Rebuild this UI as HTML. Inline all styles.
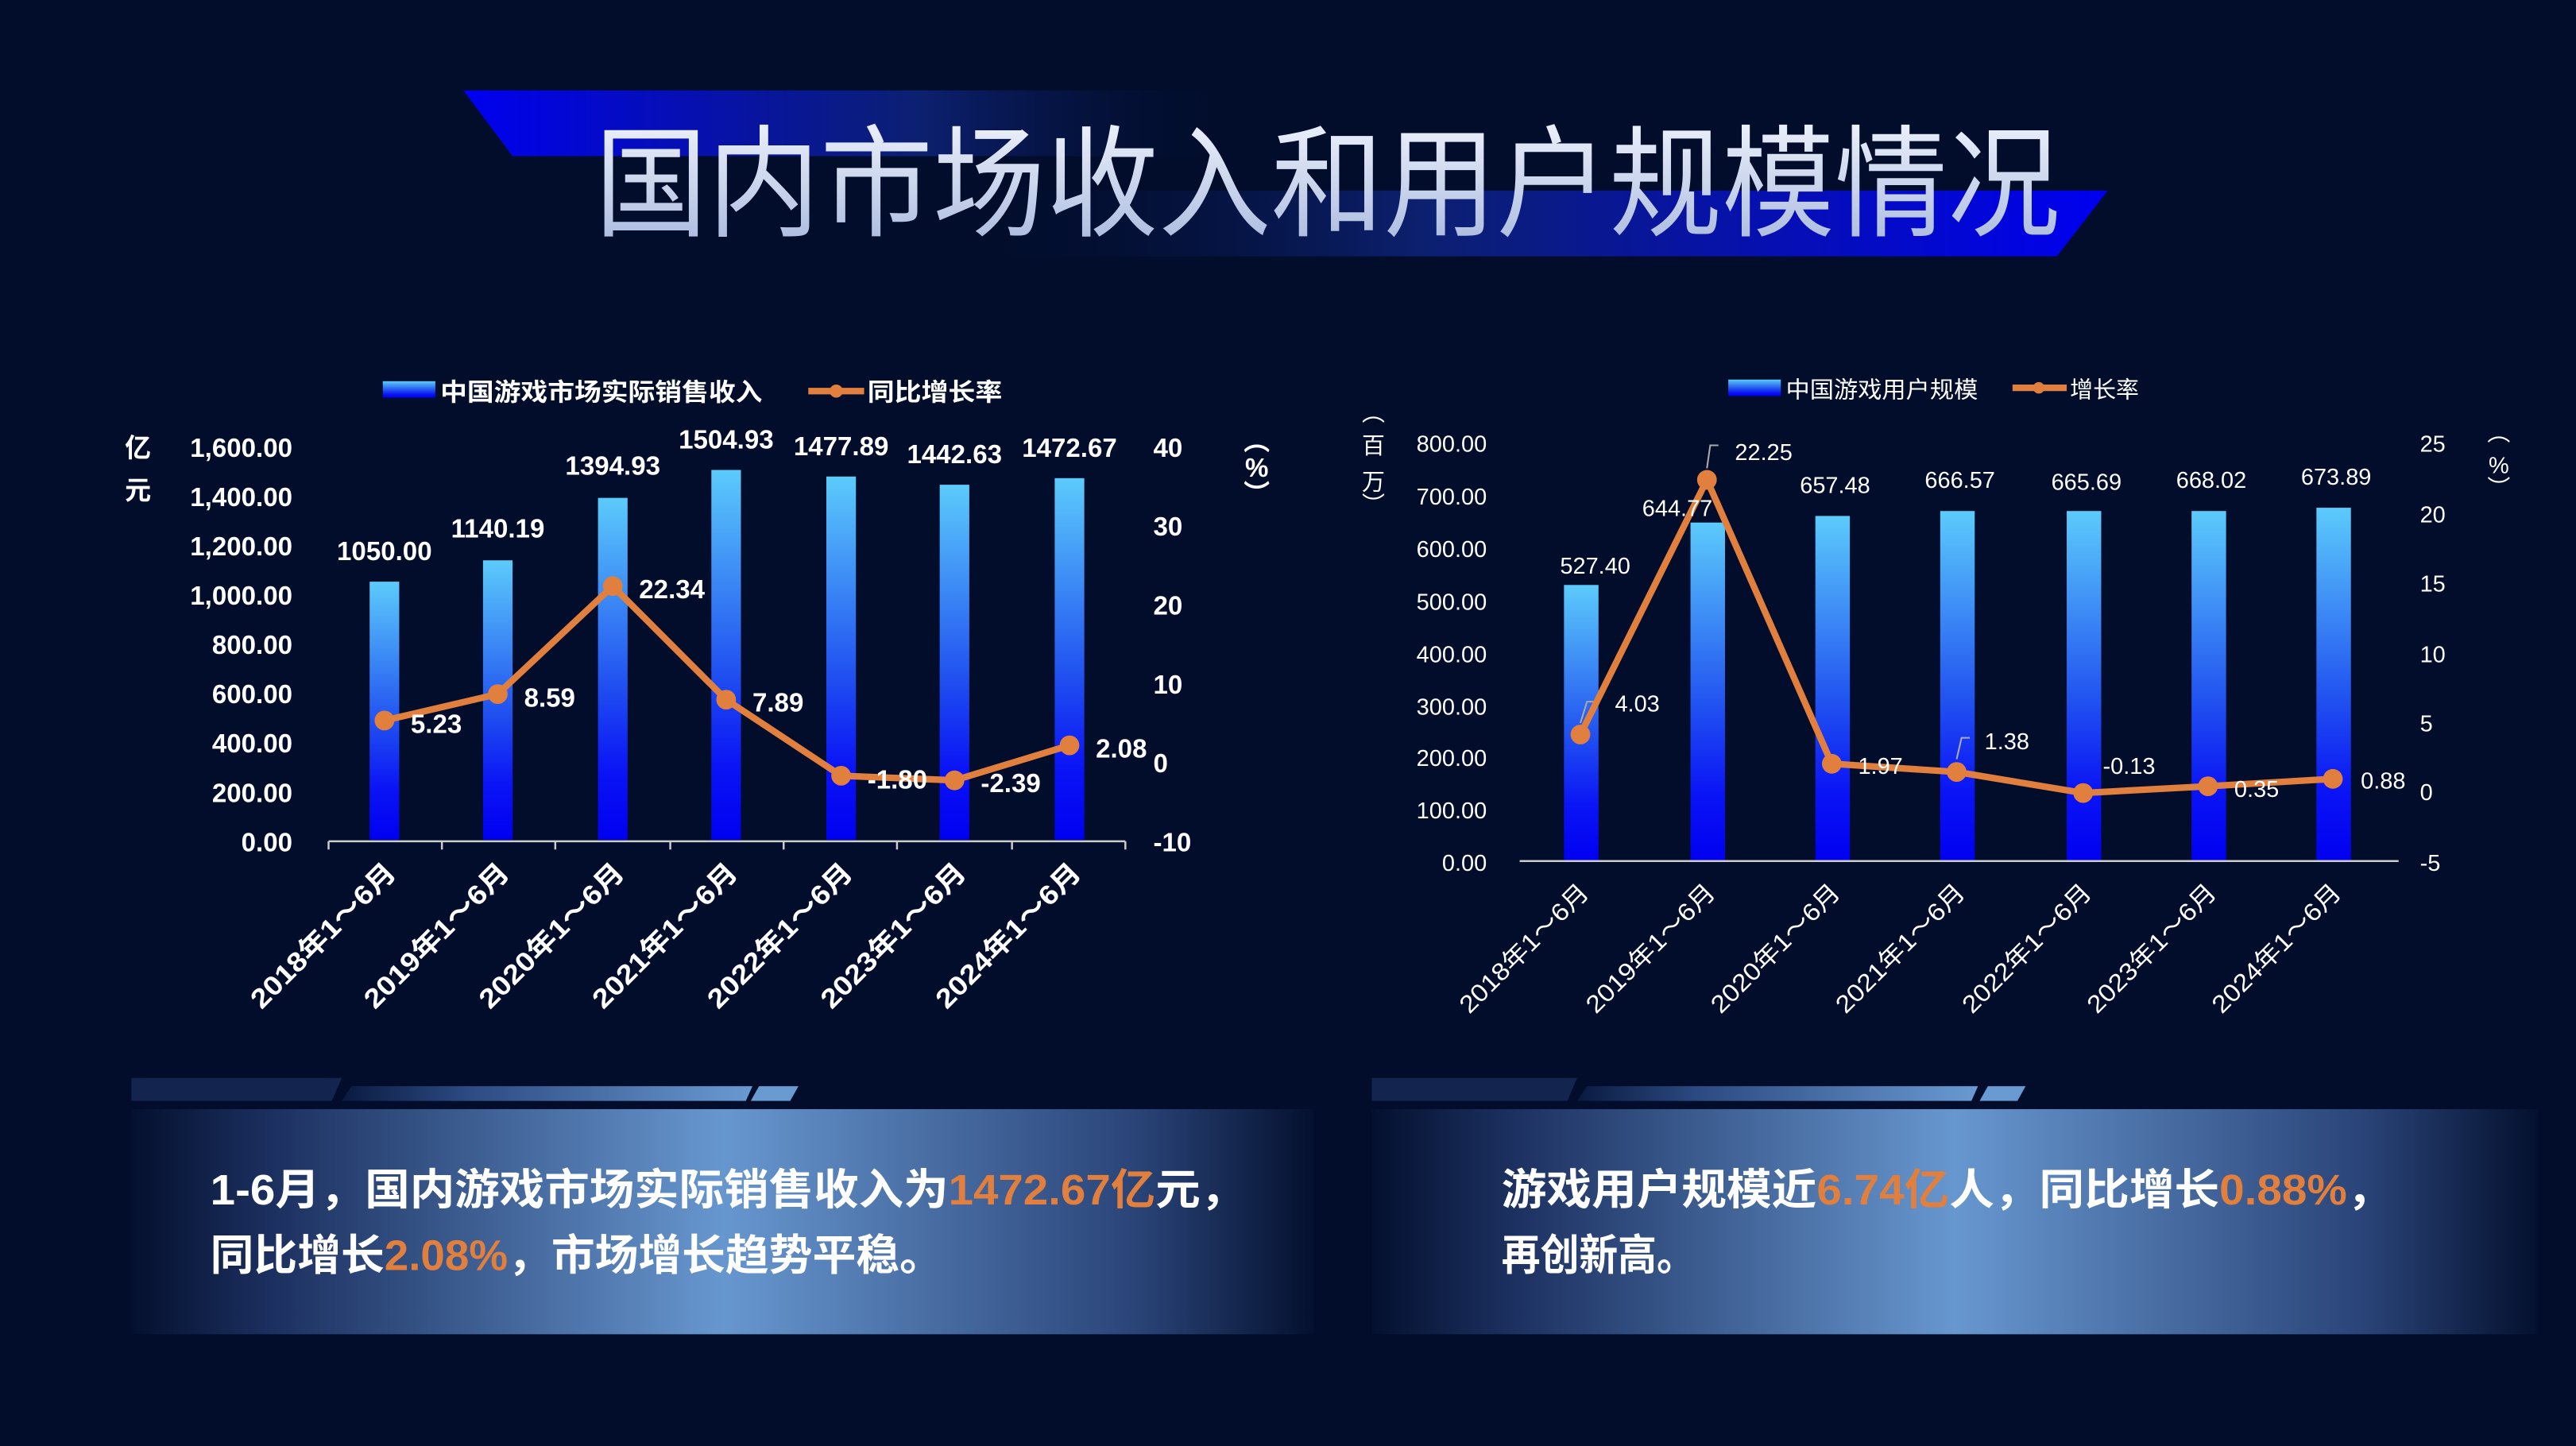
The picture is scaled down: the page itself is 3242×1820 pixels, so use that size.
<!DOCTYPE html>
<html><head><meta charset="utf-8"><style>
html,body{margin:0;padding:0;background:#020d2b;}
svg{display:block}
text{font-family:"Liberation Sans","Noto Sans CJK SC",sans-serif;}
</style></head><body>
<svg width="3242" height="1820" viewBox="0 0 1568 880" preserveAspectRatio="none" xmlns="http://www.w3.org/2000/svg">
<defs>
<linearGradient id="bar" x1="0" y1="0" x2="0" y2="1"><stop offset="0" stop-color="#5ccbfb"/><stop offset="0.55" stop-color="#2050f0"/><stop offset="0.8" stop-color="#0a14f5"/><stop offset="1" stop-color="#0000f0"/></linearGradient>
<linearGradient id="t1" x1="0" x2="1"><stop offset="0" stop-color="#0000f0"/><stop offset="0.6" stop-color="#0c2070"/><stop offset="1" stop-color="#031035" stop-opacity="0"/></linearGradient>
<linearGradient id="t2" x1="0" x2="1"><stop offset="0" stop-color="#031035" stop-opacity="0"/><stop offset="0.4" stop-color="#0c2070"/><stop offset="1" stop-color="#0000f0"/></linearGradient>
<linearGradient id="tt" x1="0" y1="0" x2="0" y2="1"><stop offset="0" stop-color="#eef2fb"/><stop offset="1" stop-color="#a7b8de"/></linearGradient>
<linearGradient id="pan" x1="0" x2="1"><stop offset="0" stop-color="#04102e"/><stop offset="0.12" stop-color="#1c3060"/><stop offset="0.5" stop-color="#6797cf"/><stop offset="0.85" stop-color="#2a4478"/><stop offset="1" stop-color="#04102e"/></linearGradient>
<linearGradient id="dec" x1="0" x2="1"><stop offset="0" stop-color="#0a1a40"/><stop offset="0.3" stop-color="#2b4a80"/><stop offset="1" stop-color="#6a9ad2"/></linearGradient>
</defs>
<rect width="1568" height="880" fill="#020d2b"/>
<!-- title -->
<polygon points="282,55 740,55 748,95 312,95" fill="url(#t1)"/>
<polygon points="590,116 1283,116 1252,156 600,156" fill="url(#t2)"/>
<text x="808" y="138" text-anchor="middle" font-size="74" fill="url(#tt)" textLength="892" lengthAdjust="spacingAndGlyphs">国内市场收入和用户规模情况</text>

<!-- LEFT CHART -->
<g font-weight="bold" fill="#fff">
<rect x="233" y="232" width="32" height="10" fill="url(#bar)"/>
<text x="268" y="244" font-size="15" textLength="196" lengthAdjust="spacingAndGlyphs">中国游戏市场实际销售收入</text>
<line x1="492" y1="238" x2="526" y2="238" stroke="#e07f3e" stroke-width="4"/><circle cx="509" cy="238" r="4" fill="#e07f3e"/>
<text x="528" y="244" font-size="15" textLength="82" lengthAdjust="spacingAndGlyphs">同比增长率</text>
<g font-size="16" text-anchor="end">
<text x="178" y="278">1,600.00</text><text x="178" y="308">1,400.00</text><text x="178" y="338">1,200.00</text><text x="178" y="368">1,000.00</text><text x="178" y="398">800.00</text><text x="178" y="428">600.00</text><text x="178" y="458">400.00</text><text x="178" y="488">200.00</text><text x="178" y="518">0.00</text>
</g>
<g font-size="16"><text x="702" y="278">40</text><text x="702" y="326">30</text><text x="702" y="374">20</text><text x="702" y="422">10</text><text x="702" y="470">0</text><text x="702" y="518">-10</text></g>
<text x="84" y="278" font-size="16" text-anchor="middle">亿</text><text x="84" y="304" font-size="16" text-anchor="middle">元</text>
<text x="765" y="274" font-size="16" text-anchor="middle">︵</text><text x="765" y="290" font-size="16" text-anchor="middle">%</text><text x="765" y="306" font-size="16" text-anchor="middle">︶</text>
</g>
<g fill="url(#bar)">
<rect x="225" y="354" width="18" height="157"/><rect x="294" y="341" width="18" height="170"/><rect x="364" y="303" width="18" height="208"/><rect x="433" y="286" width="18" height="225"/><rect x="503" y="290" width="18" height="221"/><rect x="572" y="295" width="18" height="216"/><rect x="642" y="291" width="18" height="220"/>
</g>
<g stroke="#ccc" stroke-width="1.2"><line x1="200" y1="512" x2="685" y2="512"/>
<line x1="200" y1="512" x2="200" y2="517"/><line x1="269" y1="512" x2="269" y2="517"/><line x1="338" y1="512" x2="338" y2="517"/><line x1="408" y1="512" x2="408" y2="517"/><line x1="477" y1="512" x2="477" y2="517"/><line x1="546" y1="512" x2="546" y2="517"/><line x1="616" y1="512" x2="616" y2="517"/><line x1="685" y1="512" x2="685" y2="517"/></g>
<polyline points="234,438.5 303,422.4 373,356.7 442,425.8 512,472.1 581,474.9 651,453.6" fill="none" stroke="#e07f3e" stroke-width="4" stroke-linejoin="round"/>
<g fill="#e07f3e"><circle cx="234" cy="438.5" r="6"/><circle cx="303" cy="422.4" r="6"/><circle cx="373" cy="356.7" r="6"/><circle cx="442" cy="425.8" r="6"/><circle cx="512" cy="472.1" r="6"/><circle cx="581" cy="474.9" r="6"/><circle cx="651" cy="453.6" r="6"/></g>
<g font-weight="bold" fill="#fff" font-size="16">
<text x="234" y="341" text-anchor="middle">1050.00</text><text x="303" y="327" text-anchor="middle">1140.19</text><text x="373" y="289" text-anchor="middle">1394.93</text><text x="442" y="273" text-anchor="middle">1504.93</text><text x="512" y="277" text-anchor="middle">1477.89</text><text x="581" y="282" text-anchor="middle">1442.63</text><text x="651" y="278" text-anchor="middle">1472.67</text>
<text x="250" y="446">5.23</text><text x="319" y="430">8.59</text><text x="389" y="364">22.34</text><text x="458" y="433">7.89</text><text x="528" y="480">-1.80</text><text x="597" y="482">-2.39</text><text x="667" y="461">2.08</text>
<g font-size="16.5" text-anchor="end">
<text transform="translate(242,532) rotate(-45)" textLength="117" lengthAdjust="spacingAndGlyphs">2018年1～6月</text><text transform="translate(311,532) rotate(-45)" textLength="117" lengthAdjust="spacingAndGlyphs">2019年1～6月</text><text transform="translate(381,532) rotate(-45)" textLength="117" lengthAdjust="spacingAndGlyphs">2020年1～6月</text><text transform="translate(450,532) rotate(-45)" textLength="117" lengthAdjust="spacingAndGlyphs">2021年1～6月</text><text transform="translate(520,532) rotate(-45)" textLength="117" lengthAdjust="spacingAndGlyphs">2022年1～6月</text><text transform="translate(589,532) rotate(-45)" textLength="117" lengthAdjust="spacingAndGlyphs">2023年1～6月</text><text transform="translate(659,532) rotate(-45)" textLength="117" lengthAdjust="spacingAndGlyphs">2024年1～6月</text>
</g></g>

<!-- RIGHT CHART -->
<g fill="#fff">
<rect x="1052" y="231" width="32" height="10" fill="url(#bar)"/>
<text x="1087" y="242" font-size="14" textLength="117" lengthAdjust="spacingAndGlyphs">中国游戏用户规模</text>
<line x1="1225" y1="236" x2="1258" y2="236" stroke="#e07f3e" stroke-width="4"/><circle cx="1241" cy="236" r="3.5" fill="#e07f3e"/>
<text x="1260" y="242" font-size="14">增长率</text>
<g font-size="14" text-anchor="end">
<text x="905" y="275">800.00</text><text x="905" y="307">700.00</text><text x="905" y="339">600.00</text><text x="905" y="371">500.00</text><text x="905" y="403">400.00</text><text x="905" y="435">300.00</text><text x="905" y="466">200.00</text><text x="905" y="498">100.00</text><text x="905" y="530">0.00</text>
</g>
<g font-size="14"><text x="1473" y="275">25</text><text x="1473" y="318">20</text><text x="1473" y="360">15</text><text x="1473" y="403">10</text><text x="1473" y="445">5</text><text x="1473" y="487">0</text><text x="1473" y="530">-5</text></g>
<g font-size="14" text-anchor="middle"><text x="836" y="256">︵</text><text x="836" y="276">百</text><text x="836" y="298">万</text><text x="836" y="312">︶</text>
<text x="1521" y="268">︵</text><text x="1521" y="288">%</text><text x="1521" y="302">︶</text></g>
</g>
<g fill="url(#bar)">
<rect x="952" y="356" width="21" height="168"/><rect x="1029" y="318" width="21" height="206"/><rect x="1105" y="314" width="21" height="210"/><rect x="1181" y="311" width="21" height="213"/><rect x="1258" y="311" width="21" height="213"/><rect x="1334" y="311" width="21" height="213"/><rect x="1410" y="309" width="21" height="215"/>
</g>
<line x1="925" y1="524" x2="1460" y2="524" stroke="#ccc" stroke-width="1.2"/>
<g stroke="#aaa" stroke-width="1" fill="none"><polyline points="962,440 966,427 970,427"/><polyline points="1039,285 1041,271 1046,271"/><polyline points="1191,462 1194,449 1199,449"/></g>
<polyline points="962,447 1039,292 1115,464.8 1191,469.8 1268,482.6 1344,478.5 1420,474" fill="none" stroke="#e07f3e" stroke-width="4" stroke-linejoin="round"/>
<g fill="#e07f3e"><circle cx="962" cy="447" r="6"/><circle cx="1039" cy="292" r="6"/><circle cx="1115" cy="464.8" r="6"/><circle cx="1191" cy="469.8" r="6"/><circle cx="1268" cy="482.6" r="6"/><circle cx="1344" cy="478.5" r="6"/><circle cx="1420" cy="474" r="6"/></g>
<g fill="#fff" font-size="14">
<text x="971" y="349" text-anchor="middle">527.40</text><text x="1021" y="314" text-anchor="middle">644.77</text><text x="1117" y="300" text-anchor="middle">657.48</text><text x="1193" y="297" text-anchor="middle">666.57</text><text x="1270" y="298" text-anchor="middle">665.69</text><text x="1346" y="297" text-anchor="middle">668.02</text><text x="1422" y="295" text-anchor="middle">673.89</text>
<text x="983" y="433">4.03</text><text x="1056" y="280">22.25</text><text x="1131" y="471">1.97</text><text x="1208" y="456">1.38</text><text x="1280" y="471">-0.13</text><text x="1360" y="485">0.35</text><text x="1437" y="480">0.88</text>
<g font-size="15" text-anchor="end">
<text transform="translate(968,544) rotate(-45)" textLength="104" lengthAdjust="spacingAndGlyphs">2018年1～6月</text><text transform="translate(1045,544) rotate(-45)" textLength="104" lengthAdjust="spacingAndGlyphs">2019年1～6月</text><text transform="translate(1121,544) rotate(-45)" textLength="104" lengthAdjust="spacingAndGlyphs">2020年1～6月</text><text transform="translate(1197,544) rotate(-45)" textLength="104" lengthAdjust="spacingAndGlyphs">2021年1～6月</text><text transform="translate(1274,544) rotate(-45)" textLength="104" lengthAdjust="spacingAndGlyphs">2022年1～6月</text><text transform="translate(1350,544) rotate(-45)" textLength="104" lengthAdjust="spacingAndGlyphs">2023年1～6月</text><text transform="translate(1426,544) rotate(-45)" textLength="104" lengthAdjust="spacingAndGlyphs">2024年1～6月</text>
</g></g>

<!-- bottom panels -->
<polygon points="80,656 208,656 202,670 80,670" fill="#13254f"/>
<polygon points="214,661 458,661 454,670 208,670" fill="url(#dec)"/>
<polygon points="462,661 486,661 481,670 457,670" fill="#6a9ad2"/>
<rect x="80" y="675" width="720" height="137" fill="url(#pan)"/>
<polygon points="835,656 960,656 954,670 835,670" fill="#13254f"/>
<polygon points="966,661 1204,661 1200,670 960,670" fill="url(#dec)"/>
<polygon points="1210,661 1233,661 1228,670 1205,670" fill="#6a9ad2"/>
<rect x="835" y="675" width="710" height="137" fill="url(#pan)"/>
<g font-weight="bold" font-size="26" fill="#fff">
<text x="128" y="733" textLength="630" lengthAdjust="spacingAndGlyphs">1-6月，国内游戏市场实际销售收入为<tspan fill="#e07f3e">1472.67亿</tspan>元，</text>
<text x="128" y="773" textLength="446" lengthAdjust="spacingAndGlyphs">同比增长<tspan fill="#e07f3e">2.08%</tspan>，市场增长趋势平稳。</text>
<text x="914" y="733" textLength="542" lengthAdjust="spacingAndGlyphs">游戏用户规模近<tspan fill="#e07f3e">6.74亿</tspan>人，同比增长<tspan fill="#e07f3e">0.88%</tspan>，</text>
<text x="914" y="773" textLength="118" lengthAdjust="spacingAndGlyphs">再创新高。</text>
</g>
</svg>
</body></html>
